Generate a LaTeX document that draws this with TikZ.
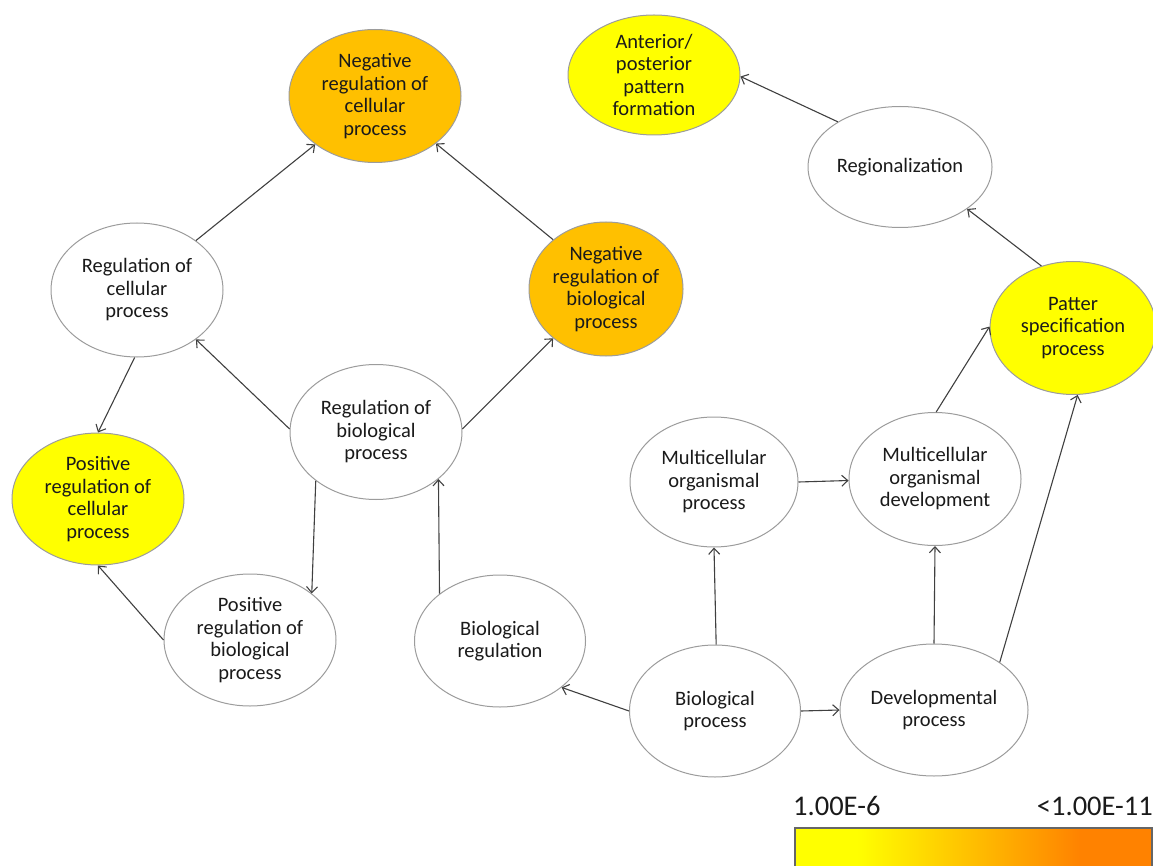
\documentclass[tikz,border=0pt]{standalone}
\usepackage{fontspec}
\setmainfont{Carlito}
\usetikzlibrary{arrows.meta,shapes.geometric}

\definecolor{rimgray}{HTML}{9C9C9C}
\definecolor{linkgray}{HTML}{404040}
\definecolor{goldfill}{HTML}{FFC000}
\definecolor{yellowfill}{HTML}{FFFF00}
\definecolor{barorange}{HTML}{FF8200}
\definecolor{inkdark}{HTML}{1A1A1A}

\tikzset{
  bubble/.style={ellipse, draw=rimgray, line width=1pt, fill=white,
    inner sep=0pt, align=center, text=inkdark,
    font=\fontsize{20.5}{22.5}\selectfont},
  goldbubble/.style={bubble, fill=goldfill},
  yellowbubble/.style={bubble, fill=yellowfill},
  sz/.style 2 args={minimum width=#1pt, minimum height=#2pt},
  link/.style={draw=linkgray, line width=1.1pt,
    -{Straight Barb[length=6pt,width=11pt]}},
  legendtext/.style={inner sep=0pt, anchor=base west, text=inkdark,
    font=\fontsize{28.5}{30}\selectfont}
}

\begin{document}
\begin{tikzpicture}[x=1pt, y=-1pt]
\useasboundingbox (0,0) rectangle (1153,866);

% GO term bubbles
\node[goldbubble, sz={172}{133}] (nc) at (375,96)
  {Negative\\regulation of\\cellular\\process};
\node[yellowbubble, sz={172}{120}] (ap) at (654,75)
  {Anterior/\\posterior\\pattern\\formation};
\node[bubble, sz={184}{121}] (rg) at (900,167) {Regionalization};
\node[bubble, sz={172}{134}] (rc) at (137,290)
  {Regulation of\\cellular\\process};
\node[goldbubble, sz={154}{134}] (nb) at (606,289)
  {Negative\\regulation of\\biological\\process};
\node[yellowbubble, sz={166}{133}] (ps) at (1073,328)
  {Patter\\specification\\process};
\node[bubble, sz={172}{135}] (rb) at (376,432)
  {Regulation of\\biological\\process};
\node[yellowbubble, sz={172}{132}] (pc) at (98,499)
  {Positive\\regulation of\\cellular\\process};
\node[bubble, sz={168}{130}] (mp) at (714,482)
  {Multicellular\\organismal\\process};
\node[bubble, sz={172}{133}] (md) at (935,479)
  {Multicellular\\organismal\\development};
\node[bubble, sz={172}{132}] (pb) at (250,640)
  {Positive\\regulation of\\biological\\process};
\node[bubble, sz={171}{132}] (br) at (500,641)
  {Biological\\regulation};
\node[bubble, sz={171}{132}] (bp) at (715,711)
  {Biological\\process};
\node[bubble, sz={188}{132}] (dp) at (934,710)
  {Developmental\\process};

% Relations between terms
\draw[link] (rc.40)  -- (nc.219);
\draw[link] (nb.137) -- (nc.322);
\draw[link] (rb.178) -- (rc.320);
\draw[link] (rb.2)   -- (nb.223);
\draw[link] (rc.268) -- (pc.90);
\draw[link] (rb.219) -- (pb.37);
\draw[link] (pb.180) -- (pc.270);
\draw[link] (br.142) -- (rb.323);
\draw[link] (bp.180) -- (br.323);
\draw[link] (bp.0)   -- (dp.180);
\draw[link] (bp.89)  -- (mp.270);
\draw[link] (mp.0)   -- (md.181);
\draw[link] (dp.90)  -- (md.270);
\draw[link] (dp.36)  -- (ps.274);
\draw[link] (md.89)  -- (ps.179);
\draw[link] (ps.117) -- (rg.328);
\draw[link] (rg.144) -- (ap.359);

% P-value colour scale
\node[legendtext] (lowp) at (793,815) {1.00E-6};
\node[legendtext, anchor=base east] (highp) at (1153,815) {<1.00E-11};
\fill[yellowfill] (795,828) rectangle (858,880);
\shade[left color=yellowfill, right color=barorange] (857,828) rectangle (1081,880);
\fill[barorange] (1080,828) rectangle (1152,880);
\draw[draw=linkgray!80, line width=1.5pt] (795,828) rectangle (1152,880);
\end{tikzpicture}
\end{document}
